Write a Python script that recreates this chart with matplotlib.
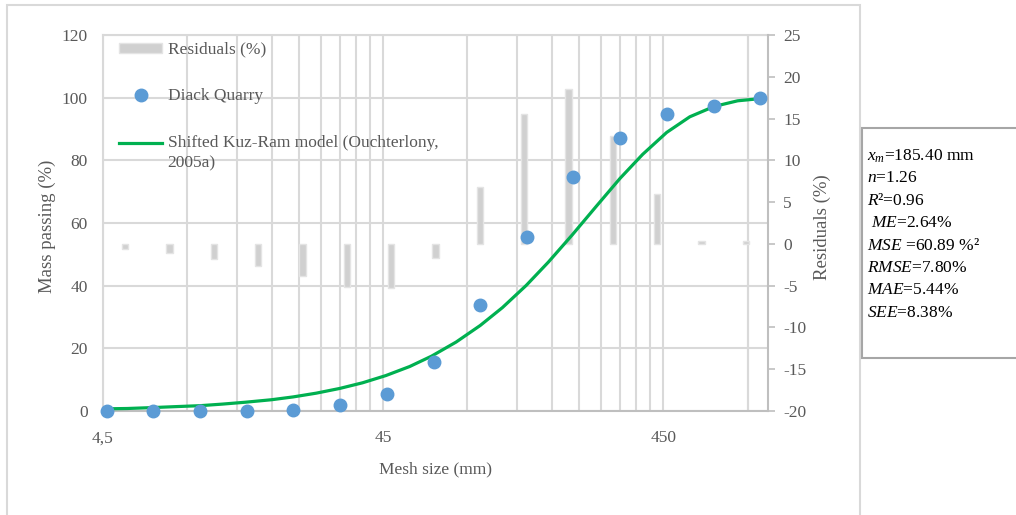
import matplotlib
matplotlib.use("Agg")
import matplotlib.pyplot as plt
from matplotlib.patches import Rectangle
from matplotlib.lines import Line2D
from matplotlib.legend_handler import HandlerLine2D
from matplotlib.ticker import FixedLocator, NullFormatter, NullLocator

plt.rcParams.update({
    "font.family": "Liberation Serif",
    "font.size": 12.5,
    "mathtext.fontset": "custom",
    "mathtext.rm": "Liberation Serif",
    "mathtext.it": "Liberation Serif:italic",
    "axes.unicode_minus": False,
})

# --- data ---
mesh_size = [4.64, 6.81, 10, 14.7, 21.5, 31.6, 46.4, 68.1, 100, 147, 215, 316, 464, 681, 1000]
mass_passing = [0.0, 0.0, 0.0, 0.0, 0.4, 1.9, 5.4, 15.7, 33.8, 55.6, 74.8, 87.0, 94.8, 97.4, 99.8]
residuals = [-0.6, -1.1, -1.8, -2.7, -3.9, -5.1, -5.3, -1.7, 6.8, 15.6, 18.5, 12.9, 6.0, 0.4, 0.3]

model_size = [4.64, 5.5, 6.8, 8.2, 10, 12, 14.5, 18, 21.5, 26, 31.5, 38, 46, 56, 67, 82,
              100, 120, 146, 175, 213, 260, 316, 380, 463, 560, 684, 830, 1000]
model_passing = [0.7, 0.8, 1.1, 1.4, 1.7, 2.2, 2.8, 3.6, 4.5, 5.7, 7.2, 9.0, 11.3, 14.2, 17.5, 22.0,
                 27.3, 33.0, 40.1, 47.5, 56.2, 65.4, 74.3, 81.9, 88.9, 93.9, 97.2, 99.0, 99.7]

x_ticks = [4.5, 45, 450]
x_tick_labels = ["4,5", "45", "450"]
left_ticks = [0, 20, 40, 60, 80, 100, 120]
right_ticks = [-20, -15, -10, -5, 0, 5, 10, 15, 20, 25]

stats_lines = [r"$x_m$=185.40 mm", r"$n$=1.26", r"$R$²=0.96", r" $ME$=2.64%",
               r"$MSE$ =60.89 %²", r"$RMSE$=7.80%", r"$MAE$=5.44%", r"$SEE$=8.38%"]

GRID = "#d9d9d9"
AXIS = "#bfbfbf"
TXT = "#595959"
BLUE = "#5b9bd5"
GREEN = "#00b050"
BAR = "#d0d0d0"


class FirstLineHandler(HandlerLine2D):
    # keep the legend line level with the first line of a two-line label
    def create_artists(self, legend, orig_handle, xdescent, ydescent, width, height, fontsize, trans):
        arts = super().create_artists(legend, orig_handle, xdescent, ydescent,
                                      width, height, fontsize, trans)
        for a in arts:
            a.set_ydata([y + 0.62 * fontsize for y in a.get_ydata()])
        return arts


W, H = 1016, 515
fig = plt.figure(figsize=(W / 100, H / 100), dpi=100)

# Excel chart-area frame
fig.patches.append(Rectangle((7 / W, -0.05), (860 - 7) / W, 1.05 - 5 / H,
                             transform=fig.transFigure, fill=False, edgecolor=GRID, lw=1.5))

rect = [103 / W, 1 - 411 / H, (768 - 103) / W, (411 - 35) / H]

# bottom layer: grid + primary axes
ax = fig.add_axes(rect, zorder=1)
ax.set_xscale("log")
ax.set_xlim(4.5, 1065)
ax.set_ylim(0, 120)
minor = [4.5 * k * 10 ** p for p in range(3) for k in range(2, 10)] + [900]
ax.xaxis.set_major_locator(FixedLocator(x_ticks))
ax.set_xticklabels(x_tick_labels)
ax.xaxis.set_minor_locator(FixedLocator(minor))
ax.xaxis.set_minor_formatter(NullFormatter())
ax.set_yticks(left_ticks)
ax.grid(True, which="both", axis="x", color=GRID, lw=1.5)
ax.grid(True, which="major", axis="y", color=GRID, lw=1.5)
ax.tick_params(axis="both", which="both", length=0, colors=TXT)
ax.tick_params(axis="x", pad=14)
ax.tick_params(axis="y", pad=11)
for s in ["top", "left"]:
    ax.spines[s].set_color(GRID)
    ax.spines[s].set_linewidth(1.5)
ax.spines["right"].set_visible(False)
ax.spines["bottom"].set_color(AXIS)
ax.spines["bottom"].set_linewidth(1.5)
ax.set_ylabel("Mass passing (%)", color=TXT, fontsize=13.5)
ax.yaxis.set_label_coords(-0.071, 0.49)
ax.set_xlabel("Mesh size (mm)", color=TXT)
ax.xaxis.set_label_coords(0.5, -0.133)

# middle layer: residual bars on secondary (category) axes
axb = fig.add_axes(rect, zorder=2)
axb.patch.set_visible(False)
axb.bar(range(len(residuals)), residuals, width=0.15, color=BAR, edgecolor="#e4e4e4", lw=1)
axb.set_xlim(-0.5, len(residuals) - 0.5)
axb.set_ylim(-20, 25)
axb.xaxis.set_major_locator(NullLocator())
axb.yaxis.tick_right()
axb.yaxis.set_label_position("right")
axb.set_yticks(right_ticks)
axb.tick_params(axis="y", length=5, width=1.2, color=AXIS, labelcolor=TXT, pad=6)
for s in ["top", "left", "bottom"]:
    axb.spines[s].set_visible(False)
axb.spines["right"].set_color(AXIS)
axb.spines["right"].set_linewidth(1.5)
axb.set_ylabel("Residuals (%)", color=TXT, fontsize=13.5)
axb.yaxis.set_label_coords(1.068, 0.49)

# top layer: measured points and model curve
axt = fig.add_axes(rect, zorder=3)
axt.patch.set_visible(False)
axt.set_xscale("log")
axt.set_xlim(ax.get_xlim())
axt.set_ylim(ax.get_ylim())
axt.axis("off")
axt.plot(model_size, model_passing, color=GREEN, lw=2.3, clip_on=False)
axt.plot(mesh_size, mass_passing, "o", color=BLUE, ms=9, mec=BLUE, clip_on=False)

model_handle = Line2D([], [], color=GREEN, lw=2.3)
handles = [Rectangle((0, 0), 1, 1, facecolor=BAR, edgecolor="#e4e4e4"),
           Line2D([], [], ls="none", marker="o", color=BLUE, ms=9),
           model_handle]
labels = ["Residuals (%)", "Diack Quarry", "Shifted Kuz-Ram model (Ouchterlony,\n2005a)"]
leg = axt.legend(handles, labels, loc="upper left", bbox_to_anchor=(0.024, 0.982),
                 frameon=False, borderpad=0, borderaxespad=0, handlelength=2.5,
                 handleheight=0.5, handletextpad=0.3, labelspacing=1.75,
                 handler_map={model_handle: FirstLineHandler()})
for t in leg.get_texts():
    t.set_color(TXT)
    t.set_linespacing(1.4)

# statistics box
fig.patches.append(Rectangle((862 / W, 1 - 358 / H), 200 / W, (358 - 128) / H,
                             transform=fig.transFigure, facecolor="white",
                             edgecolor="#a6a6a6", lw=1.5, zorder=5))
for i, line in enumerate(stats_lines):
    fig.text(867 / W, 1 - (156 + 22.4 * i) / H, line, ha="left", va="center",
             color="black", fontsize=12.5, zorder=6)

fig.savefig("out.png", dpi=100)
